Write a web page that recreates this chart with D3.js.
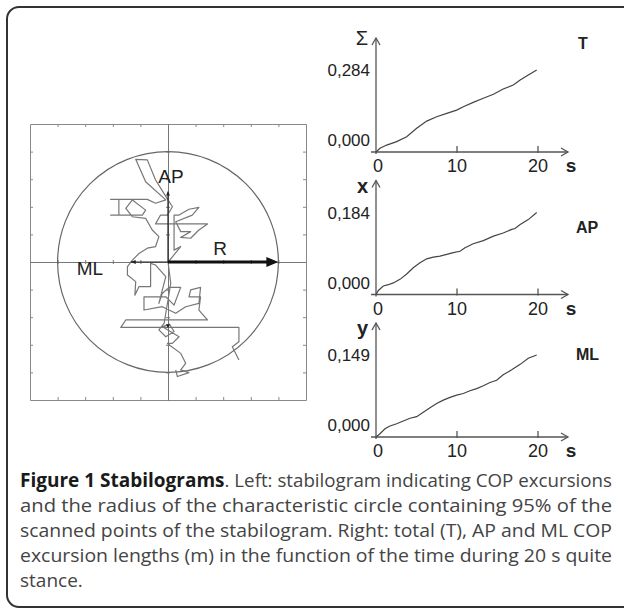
<!DOCTYPE html>
<html>
<head>
<meta charset="utf-8">
<script src="https://cdn.jsdelivr.net/npm/d3@7"></script>
<style>
  body { margin: 0; background: #fff; }
  svg { display: block; }
</style>
</head>
<body>
<svg id="fig" width="624" height="608"></svg>
<script>
// COP trace of the stabilogram (grid units, 1 unit = 1 grid division)
var copX = [2.57, 2.33, 2.57, 2.57, -1.71, -1.53, 1.43, 1.12, 1.18, 0.76, 0.82, 1.18, 1.12, 0.64, 0.28, -0.21,
  -0.87, -0.87, -0.08, 0.22, 0.46, 0.04, -0.21, -0.33, -0.08, -0.45, -0.63, -0.63, -1.05, -1.20, -1.17, -1.47,
  -1.47, -1.29, -1.05, -0.75, -0.45, -0.33, -0.57, -0.81, -1.29, -1.53, -1.29, -0.81, -0.93, -2.08, -1.78, -1.78,
  -2.08, -0.75, -0.45, -0.08, -0.81, -1.17, -0.75, -0.45, 0.00, 0.16, -0.02, -0.27, -0.45, -0.33, 1.43, 1.12,
  0.82, 0.46, 0.82, 0.46, 0.28, 0.88, 1.12, 0.76, 0.40, 0.22, 0.22, 0.46, 0.16, 0.00, 0.10, -0.14,
  -0.33, -0.08, 0.22, 0.05, -0.20, 0.40, 0.16, -0.02, 0.46, 0.64, 0.46, 0.76, 0.34, 0.28];
var copY = [-3.55, -3.07, -2.89, -2.37, -2.37, -2.10, -2.10, -1.74, -1.26, -1.26, -1.01, -0.92, -1.50, -1.62, -1.86, -1.62,
  -1.74, -1.26, -1.26, -1.56, -0.92, -0.92, -1.14, -1.50, -0.53, -0.11, -0.05, -0.89, -0.89, -1.20, -0.71, -0.47,
  -0.17, 0.07, 0.31, 0.50, 0.56, 0.92, 1.16, 1.58, 1.64, 1.94, 2.25, 1.88, 1.70, 1.70, 1.70, 2.27,
  2.27, 2.27, 2.13, 2.25, 2.91, 3.72, 3.70, 2.97, 2.25, 2.00, 1.70, 1.70, 1.38, 1.38, 1.38, 1.16,
  0.86, 0.89, 1.10, 1.10, 1.46, 1.70, 1.98, 1.91, 1.70, 1.70, 0.43, 0.56, 0.19, 0.00, -0.77, -2.22,
  -2.46, -2.71, -2.52, -2.25, -2.35, -2.71, -2.95, -2.95, -3.31, -3.67, -3.91, -4.01, -4.15, -3.91];
var radius95 = 4;
var apRange = [-2.4, 2.55];
var mlReach = -1.35;

// excursion lengths (m) against time (s)
var timeT = [0, 0.49, 1.32, 2.55, 3.79, 5.02, 6.26, 7.49, 8.73, 9.96, 10.78, 12.0, 13.25, 14.5, 15.7, 16.95, 17.8, 18.8, 19.84];
var lenT = [0, 0.013, 0.024, 0.036, 0.053, 0.082, 0.107, 0.122, 0.134, 0.145, 0.157, 0.172, 0.186, 0.200, 0.218, 0.232, 0.249, 0.267, 0.284];
var timeAP = [0, 0.29, 0.9, 1.52, 2.14, 2.96, 3.79, 4.6, 5.43, 6.26, 7.07, 7.9, 8.73, 9.54, 10.37, 10.99, 12.0, 13.25, 14.5, 15.7, 16.75, 17.16, 17.8, 18.8, 19.84];
var lenAP = [0, 0.009, 0.019, 0.022, 0.026, 0.034, 0.046, 0.060, 0.071, 0.080, 0.084, 0.086, 0.090, 0.094, 0.097, 0.105, 0.114, 0.121, 0.131, 0.138, 0.146, 0.148, 0.157, 0.168, 0.184];
var timeML = [0, 0.49, 1.11, 1.73, 2.55, 3.37, 4.2, 5.02, 5.84, 6.67, 7.49, 8.31, 9.14, 9.96, 10.78, 11.6, 12.43, 13.25, 14.07, 14.9, 15.7, 16.75, 17.8, 18.8, 19.84];
var lenML = [0, 0.006, 0.015, 0.020, 0.024, 0.029, 0.034, 0.037, 0.045, 0.053, 0.061, 0.067, 0.072, 0.076, 0.079, 0.084, 0.088, 0.093, 0.099, 0.103, 0.113, 0.122, 0.132, 0.143, 0.149];
var panelNames = ["T", "AP", "ML"];
var panelSymbols = ["\u03A3", "x", "y"];
var timeTicks = [0, 10, 20];

var svg = d3.select("#fig");

// outer rounded frame
svg.append("rect")
  .attr("x", 7).attr("y", 7)
  .attr("width", 640).attr("height", 600)
  .attr("rx", 12)
  .attr("fill", "none")
  .attr("stroke", "#333")
  .attr("stroke-width", 2);

// ---- left: stabilogram ----
var sx = d3.scaleLinear().domain([-5, 5]).range([30, 306]);
var sy = d3.scaleLinear().domain([-5, 5]).range([400, 124]);
var gridTicks = d3.range(-4, 5);

var stab = svg.append("g").attr("class", "stab");

function frameAxis(axis, tx, ty) {
  var g = stab.append("g")
    .attr("transform", "translate(" + tx + "," + ty + ")")
    .call(axis.tickValues(gridTicks).tickSizeInner(-3).tickSizeOuter(0).tickFormat(""));
  g.selectAll("path, line").attr("stroke", "#888");
}
frameAxis(d3.axisBottom(sx), 0, sy(-5));
frameAxis(d3.axisTop(sx), 0, sy(5));
frameAxis(d3.axisLeft(sy), sx(-5), 0);
frameAxis(d3.axisRight(sy), sx(5), 0);

// crosshair through the origin, small ticks on both sides
[d3.axisTop(sx), d3.axisBottom(sx)].forEach(function(a) {
  var g = stab.append("g")
    .attr("transform", "translate(0," + sy(0) + ")")
    .call(a.tickValues(gridTicks.filter(function(d) { return d !== 0; })).tickSize(2).tickSizeOuter(0).tickFormat(""));
  g.selectAll("path, line").attr("stroke", "#777");
});
[d3.axisLeft(sy), d3.axisRight(sy)].forEach(function(a) {
  var g = stab.append("g")
    .attr("transform", "translate(" + sx(0) + ",0)")
    .call(a.tickValues(gridTicks.filter(function(d) { return d !== 0; })).tickSize(2).tickSizeOuter(0).tickFormat(""));
  g.selectAll("path, line").attr("stroke", "#777");
});

// 95% circle
stab.append("circle")
  .attr("cx", sx(0)).attr("cy", sy(0))
  .attr("r", sx(radius95) - sx(0))
  .attr("fill", "none")
  .attr("stroke", "#666")
  .attr("stroke-width", 1.2);

// COP path
var copPts = copX.map(function(d, i) { return [d, copY[i]]; });
stab.append("path")
  .datum(copPts)
  .attr("d", d3.line().x(function(d) { return sx(d[0]); }).y(function(d) { return sy(d[1]); }))
  .attr("fill", "none")
  .attr("stroke", "#777")
  .attr("stroke-width", 1.2)
  .attr("stroke-linejoin", "round");

// arrows
function arrowHead(x, y, dir, len, half) {
  // dir: unit vector of the arrow
  var bx = x - dir[0] * len, by = y - dir[1] * len;
  var px = -dir[1] * half, py = dir[0] * half;
  return "M" + x + "," + y + "L" + (bx + px) + "," + (by + py) + "L" + (bx - px) + "," + (by - py) + "Z";
}
// AP range
stab.append("line")
  .attr("x1", sx(0)).attr("y1", sy(0))
  .attr("x2", sx(0)).attr("y2", sy(apRange[1]))
  .attr("stroke", "#222").attr("stroke-width", 1.2);
stab.append("path").attr("d", arrowHead(sx(0), sy(apRange[1]), [0, -1], 4, 2)).attr("fill", "#222");
stab.append("path").attr("d", arrowHead(sx(0), sy(apRange[0]), [0, 1], 4, 2)).attr("fill", "#222");
// ML reach
stab.append("line")
  .attr("x1", sx(0)).attr("y1", sy(0))
  .attr("x2", sx(mlReach)).attr("y2", sy(0))
  .attr("stroke", "#222").attr("stroke-width", 1.2);
stab.append("path").attr("d", arrowHead(sx(mlReach), sy(0), [-1, 0], 5, 2)).attr("fill", "#222");
// R
stab.append("line")
  .attr("x1", sx(0)).attr("y1", sy(0))
  .attr("x2", sx(radius95) - 8).attr("y2", sy(0))
  .attr("stroke", "#111").attr("stroke-width", 3);
stab.append("path").attr("d", arrowHead(sx(radius95), sy(0), [1, 0], 12, 5)).attr("fill", "#111");

var labelFont = "'Liberation Sans', Arial, sans-serif";
stab.append("text").text("AP").attr("x", 171).attr("y", 183)
  .attr("text-anchor", "middle").attr("font-family", labelFont).attr("font-size", 19).attr("fill", "#222");
stab.append("text").text("ML").attr("x", 90).attr("y", 275)
  .attr("text-anchor", "middle").attr("font-family", labelFont).attr("font-size", 19).attr("fill", "#222");
stab.append("text").text("R").attr("x", 220).attr("y", 255)
  .attr("text-anchor", "middle").attr("font-family", labelFont).attr("font-size", 19).attr("fill", "#222");

// ---- right: excursion length panels ----
var series = [[timeT, lenT], [timeAP, lenAP], [timeML, lenML]];
var fmt = d3.format(".3f");
var nameY = [103, 62, 77];

series.forEach(function(s, i) {
  var base = 152 + i * 142.5;
  var vmax = d3.max(s[1]);
  var x = d3.scaleLinear().domain([0, 20]).range([376, 538]);
  var y = d3.scaleLinear().domain([0, vmax]).range([base, base - 82]);
  var g = svg.append("g");

  // axes with open arrowheads
  g.append("line").attr("x1", 371).attr("y1", base).attr("x2", 568).attr("y2", base)
    .attr("stroke", "#555").attr("stroke-width", 1.3);
  g.append("path").attr("d", "M561," + (base - 4) + "L568," + base + "L561," + (base + 4))
    .attr("fill", "none").attr("stroke", "#555").attr("stroke-width", 1.3);
  g.append("line").attr("x1", x(0)).attr("y1", base + 2).attr("x2", x(0)).attr("y2", base - 114)
    .attr("stroke", "#555").attr("stroke-width", 1.3);
  g.append("path").attr("d", "M" + (x(0) - 4) + "," + (base - 107) + "L" + x(0) + "," + (base - 114) + "L" + (x(0) + 4) + "," + (base - 107))
    .attr("fill", "none").attr("stroke", "#555").attr("stroke-width", 1.3);

  g.selectAll(".tk").data(timeTicks.slice(1)).enter().append("line")
    .attr("x1", function(d) { return x(d); }).attr("x2", function(d) { return x(d); })
    .attr("y1", base - 6).attr("y2", base + 1)
    .attr("stroke", "#555").attr("stroke-width", 1.3);
  g.selectAll(".tl").data(timeTicks).enter().append("text")
    .text(function(d) { return d; })
    .attr("x", function(d) { return x(d) + (d === 0 ? 2 : 0); })
    .attr("y", base + 20)
    .attr("text-anchor", "middle")
    .attr("font-family", labelFont).attr("font-size", 18).attr("fill", "#222");
  g.append("text").text("s").attr("x", 571).attr("y", base + 20)
    .attr("text-anchor", "middle").attr("font-family", labelFont).attr("font-size", 19)
    .attr("font-weight", "bold").attr("fill", "#222");

  // value labels
  [0, vmax].forEach(function(v) {
    g.append("text").text(fmt(v).replace(".", ","))
      .attr("x", 370)
      .attr("y", v === 0 ? base - 6 : y(v) + 6)
      .attr("text-anchor", "end")
      .attr("font-family", labelFont).attr("font-size", 17).attr("fill", "#222");
  });

  // axis symbol and panel name
  g.append("text").text(panelSymbols[i])
    .attr("x", 368).attr("y", base - (i === 0 ? 107 : 102))
    .attr("text-anchor", "end")
    .attr("font-family", labelFont)
    .attr("font-size", i === 0 ? 20 : 20)
    .attr("font-weight", i === 0 ? "normal" : "bold")
    .attr("fill", "#222");
  g.append("text").text(panelNames[i])
    .attr("x", 576 + (i === 0 ? 2 : 0)).attr("y", base - nameY[i])
    .attr("font-family", labelFont).attr("font-size", 16).attr("font-weight", "bold").attr("fill", "#222");

  var pts = s[0].map(function(t, k) { return [t, s[1][k]]; });
  g.append("path").datum(pts)
    .attr("d", d3.line().x(function(d) { return x(d[0]); }).y(function(d) { return y(d[1]); }))
    .attr("fill", "none").attr("stroke", "#444").attr("stroke-width", 1.2);
});

// ---- caption ----
var capFont = "'Open Sans', 'Noto Sans', sans-serif";
var capLines = [
  ". Left: stabilogram indicating COP excursions",
  "and the radius of the characteristic circle containing 95% of the",
  "scanned points of the stabilogram. Right: total (T), AP and ML COP",
  "excursion lengths (m) in the function of the time during 20 s quite",
  "stance."
];
var capLeft = 20, capRight = 612;
var bold = svg.append("text").text("Figure 1 Stabilograms")
  .attr("x", capLeft).attr("y", 487)
  .attr("font-family", capFont).attr("font-size", 19).attr("font-weight", "bold").attr("fill", "#1a1a1a");
var bw = bold.node().getComputedTextLength();
capLines.forEach(function(line, i) {
  var x0 = i === 0 ? capLeft + bw : capLeft;
  var t = svg.append("text").text(line)
    .attr("x", x0).attr("y", 487 + i * 25)
    .attr("font-family", capFont).attr("font-size", 19).attr("fill", "#444");
  if (i < capLines.length - 1) {
    t.attr("textLength", capRight - x0).attr("lengthAdjust", "spacingAndGlyphs");
  }
});
</script>
</body>
</html>
